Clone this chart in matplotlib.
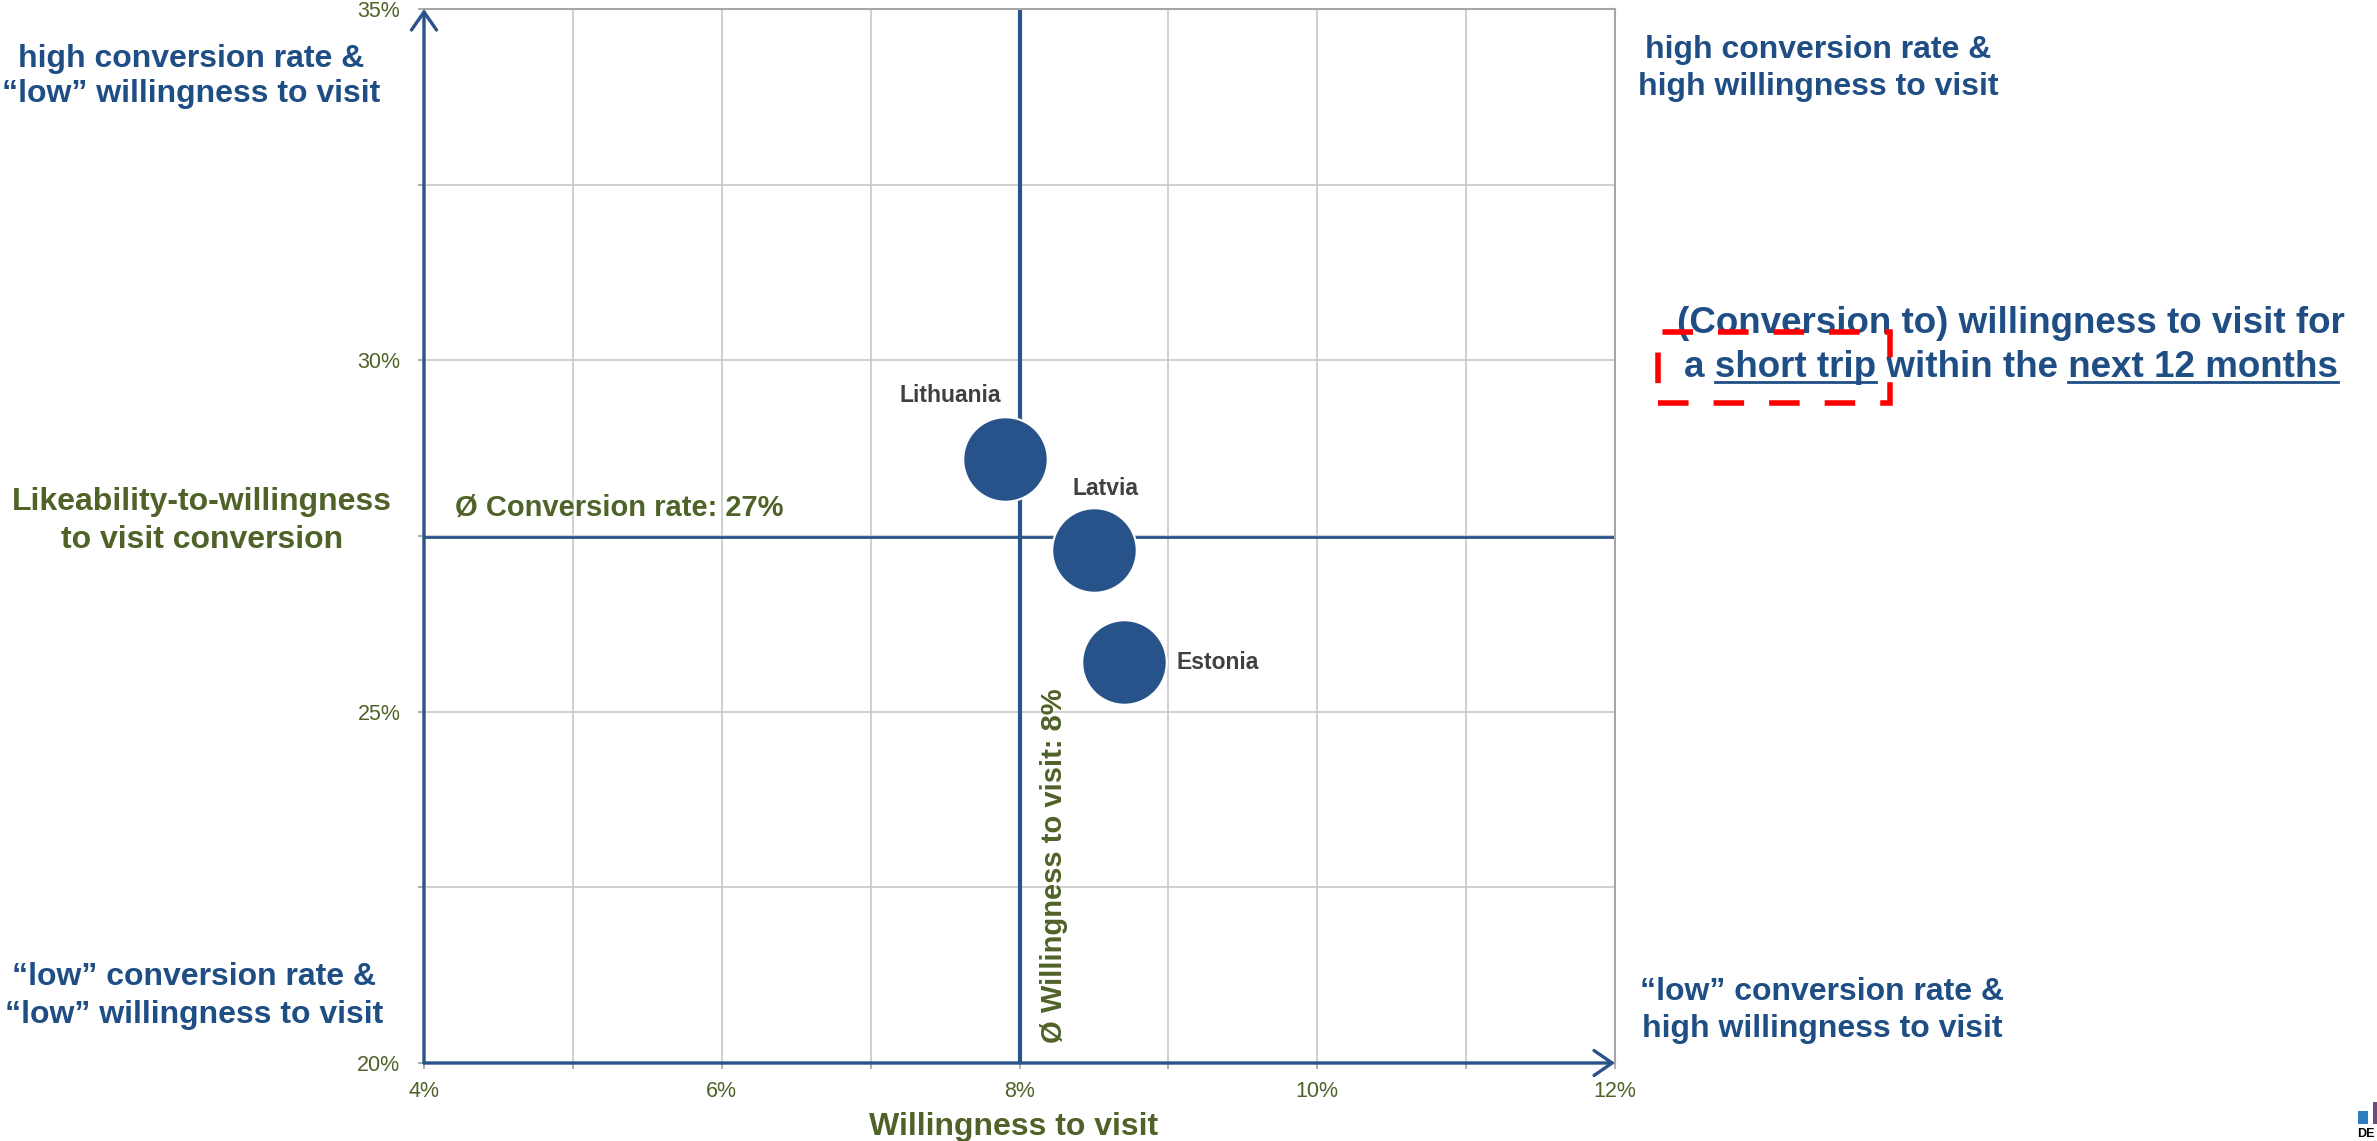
import matplotlib
matplotlib.use("Agg")
import matplotlib.pyplot as plt
from matplotlib.ticker import FixedLocator, FuncFormatter
from matplotlib.patches import Rectangle
from matplotlib.lines import Line2D
from matplotlib.font_manager import FontProperties

plt.rcParams["font.family"] = ["Liberation Sans", "DejaVu Sans"]

# Werte je Land (in %)
countries = ["Lithuania", "Latvia", "Estonia"]
willingness = [7.9, 8.5, 8.7]
conversion = [28.6, 27.3, 25.7]

# Durchschnittswerte
avg_willingness = 8.0
avg_conversion = 27.48

x_ticks = [4, 5, 6, 7, 8, 9, 10, 11, 12]
x_labeled = [4, 6, 8, 10, 12]
y_ticks = [20, 22.5, 25, 27.5, 30, 32.5, 35]
y_labeled = [20, 25, 30, 35]

BLUE = "#1F4E85"
BUBBLE = "#27528A"
LINE_BLUE = "#2A5389"
GREEN = "#4F6228"
GRAY_TXT = "#404040"

W, H = 2377, 1141
fig = plt.figure(figsize=(W / 100, H / 100), dpi=100)
ax = fig.add_axes([424 / W, 1 - 1063 / H, (1615 - 424) / W, (1063 - 9) / H])


def px(x, y):
    # Pixelposition (von oben links) -> Figure-Koordinaten
    return x / W, 1 - y / H


def lines_at(x, baselines, lines, **kw):
    for yb, s in zip(baselines, lines):
        fig.text(*px(x, yb), s, ha="center", va="baseline", **kw)


ax.set_xlim(4, 12)
ax.set_ylim(20, 35)
ax.xaxis.set_major_locator(FixedLocator(x_ticks))
ax.yaxis.set_major_locator(FixedLocator(y_ticks))
ax.xaxis.set_major_formatter(FuncFormatter(lambda v, p: f"{v:.0f}%" if v in x_labeled else ""))
ax.yaxis.set_major_formatter(FuncFormatter(lambda v, p: f"{v:.0f}%" if v in y_labeled else ""))
ax.tick_params(axis="both", colors="#A0A0A0", labelcolor=GREEN, labelsize=15.5,
               length=4, width=1.2, direction="out")
ax.tick_params(axis="y", pad=13)
ax.tick_params(axis="x", pad=9)
ax.grid(True, color="#C8C8C8", linewidth=1.2)
ax.set_axisbelow(True)
for sp in ax.spines.values():
    sp.set_color("#A6A6A6")
    sp.set_linewidth(1.5)

# Achsen mit Pfeilen
arrow = dict(arrowstyle="->,head_length=0.65,head_width=0.45", color=LINE_BLUE, lw=2.4,
             shrinkA=0, shrinkB=0, mutation_scale=20)
ax.annotate("", xy=(4, 35), xytext=(4, 20), arrowprops=arrow, annotation_clip=False)
ax.annotate("", xy=(12, 20), xytext=(4, 20), arrowprops=arrow, annotation_clip=False)

# Durchschnittslinien
ax.axvline(avg_willingness, color=LINE_BLUE, lw=3, zorder=2)
ax.axhline(avg_conversion, color=LINE_BLUE, lw=2, zorder=2)
ax.annotate(f"Ø Conversion rate: {avg_conversion:.0f}%", xy=(4, avg_conversion),
            xytext=(31, 21), textcoords="offset pixels", ha="left", va="baseline",
            fontsize=21, fontweight="bold", color=GREEN)
ax.annotate(f"Ø Willingness to visit: {avg_willingness:.0f}%", xy=(avg_willingness, 20),
            xytext=(34, 20), textcoords="offset pixels", ha="center", va="bottom",
            rotation=90, fontsize=21, fontweight="bold", color=GREEN)

# Blasen
ax.scatter(willingness, conversion, s=3700, color=BUBBLE, edgecolor="white",
           linewidth=1.5, zorder=4, clip_on=False)
label_pos = {"Lithuania": ((-54, 63), "center"),
             "Latvia": ((12, 62), "center"),
             "Estonia": ((53, 0), "left")}
for name, xv, yv in zip(countries, willingness, conversion):
    off, ha = label_pos[name]
    ax.annotate(name, xy=(xv, yv), xytext=off, textcoords="offset pixels",
                ha=ha, va="center", fontsize=16.5, fontweight="bold", color=GRAY_TXT)

# Quadranten-Beschriftungen
qkw = dict(fontsize=23, fontweight="bold", color=BLUE)
lines_at(191, [67, 102], ["high conversion rate &", "“low” willingness to visit"], **qkw)
lines_at(1818, [58, 95], ["high conversion rate &", "high willingness to visit"], **qkw)
lines_at(194, [985, 1023], ["“low” conversion rate &", "“low” willingness to visit"], **qkw)
lines_at(1822, [1000, 1037], ["“low” conversion rate &", "high willingness to visit"], **qkw)

gkw = dict(fontsize=23, fontweight="bold", color=GREEN)
lines_at(202, [510, 548], ["Likeability-to-willingness", "to visit conversion"], **gkw)
lines_at(1014, [1135], ["Willingness to visit"], **gkw)

# Titel rechts mit Unterstreichungen
tkw = dict(fontsize=26.5, fontweight="bold", color=BLUE)
line1 = "(Conversion to) willingness to visit for"
line2 = "a short trip within the next 12 months"
lines_at(2011, [333, 377], [line1, line2], **tkw)

renderer = fig.canvas.get_renderer()
fp = FontProperties(family=["Liberation Sans"], weight="bold", size=26.5)


def tw(s):
    return renderer.get_text_width_height_descent(s, fp, ismath=False)[0]


x0 = 2011 - tw(line2) / 2
spans = [(x0 + tw("a s") - tw("s"), x0 + tw("a short trip")),
         (x0 + tw("a short trip within the n") - tw("n"), x0 + tw(line2))]
for xa, xb in spans:
    (fa, fy), (fb, _) = px(xa, 382), px(xb, 382)
    fig.add_artist(Line2D([fa, fb], [fy, fy], transform=fig.transFigure,
                          color=BLUE, lw=2))

fig.add_artist(Rectangle(px(1658, 403), (1890 - 1658) / W, (403 - 332) / H,
                         transform=fig.transFigure, fill=False, edgecolor="#FF0000",
                         lw=4, linestyle=(0, (5.5, 4.5)), zorder=5))

# Logo-Ecke
fig.add_artist(Rectangle(px(2358, 1124), 10 / W, 13 / H, transform=fig.transFigure,
                         color="#2E7DC1", lw=0))
fig.add_artist(Rectangle(px(2373, 1124), 6 / W, 22 / H, transform=fig.transFigure,
                         color="#6B4C7A", lw=0))
fig.text(*px(2357, 1128), "DE", ha="left", va="top", fontsize=9,
         fontweight="bold", color="black")

fig.savefig("out.png", dpi=100)
